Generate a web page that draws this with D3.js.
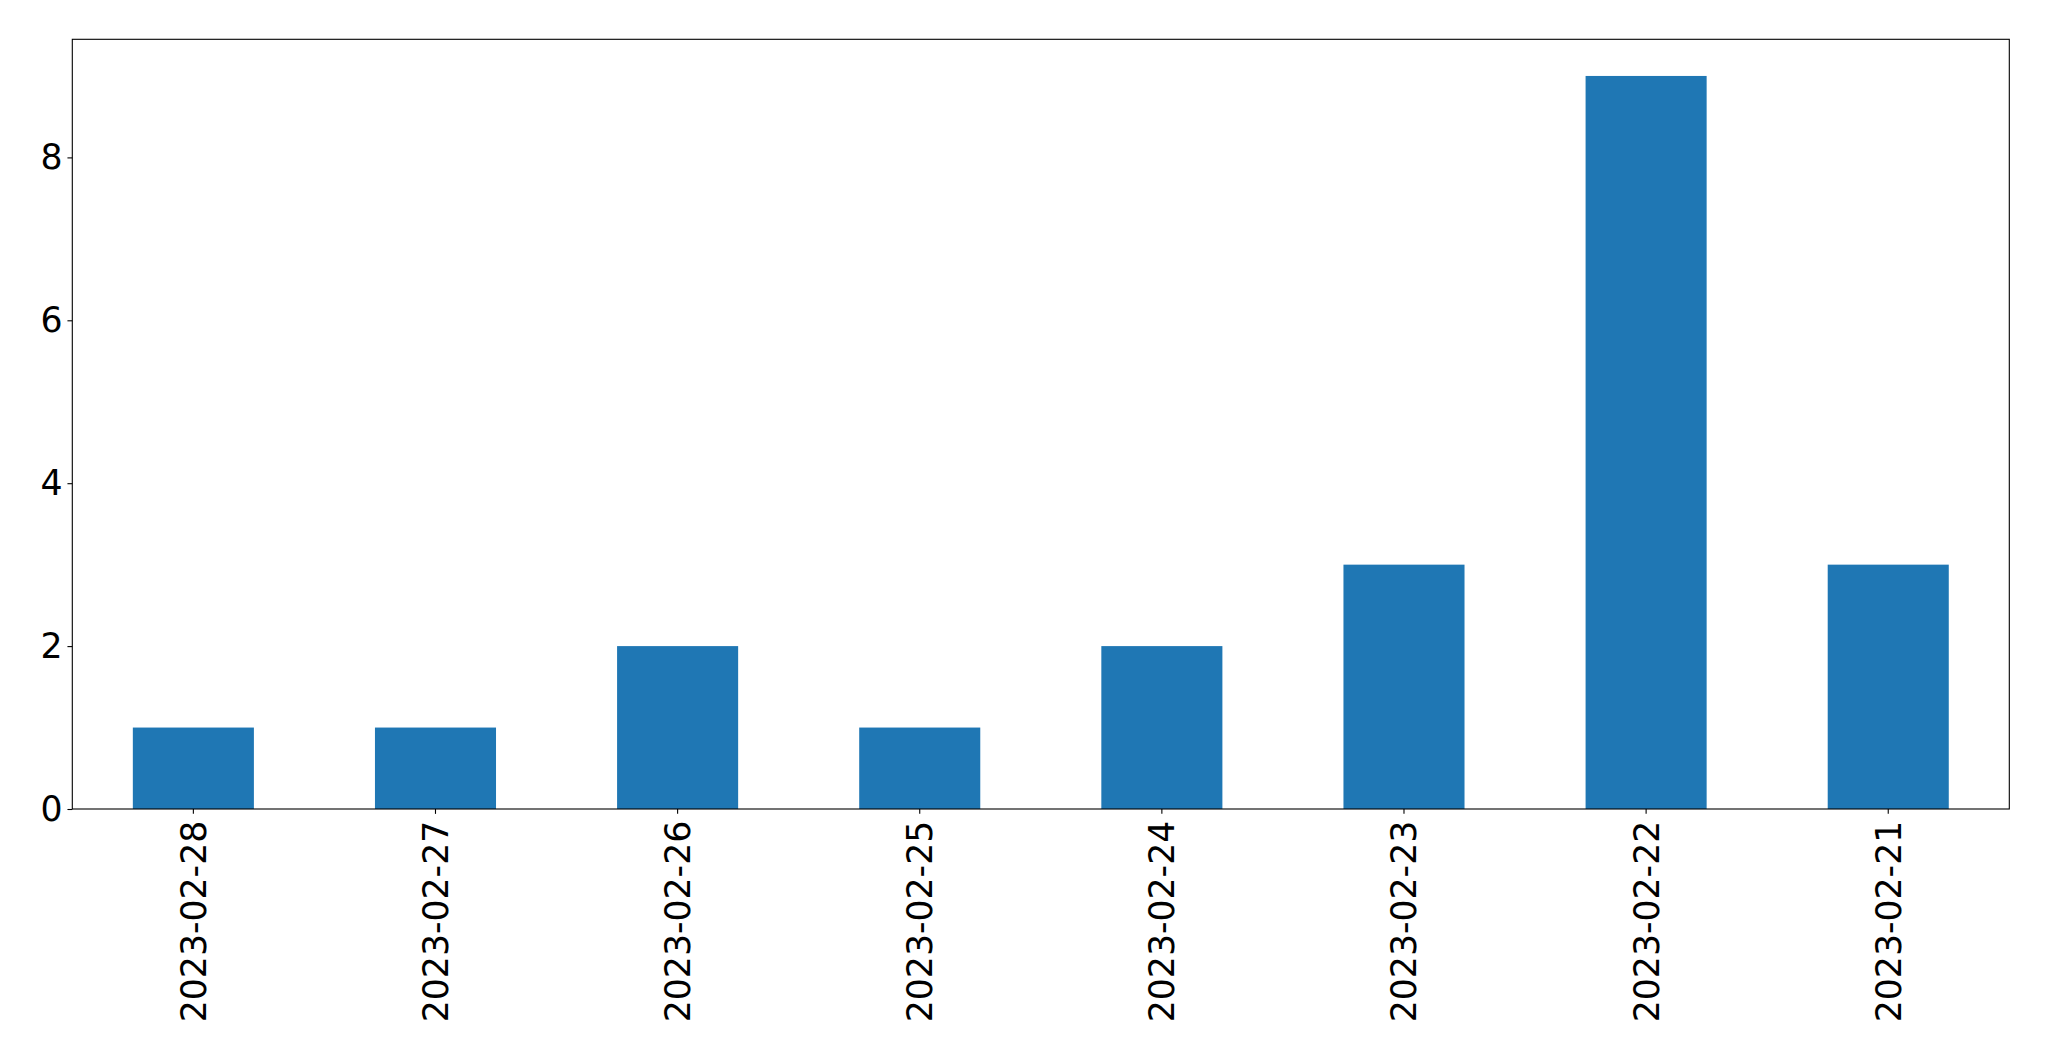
<!DOCTYPE html>
<html>
<head>
<meta charset="utf-8">
<script src="https://d3js.org/d3.v7.min.js"></script>
<style>
  html, body { margin: 0; padding: 0; background: #fff; }
  svg { display: block; }
  text { font-family: "DejaVu Sans", sans-serif; fill: #000; }
</style>
</head>
<body>
<script>
const categories = ["2023-02-28", "2023-02-27", "2023-02-26", "2023-02-25", "2023-02-24", "2023-02-23", "2023-02-22", "2023-02-21"];
const values = [1, 1, 2, 1, 2, 3, 9, 3];
const yTicks = [0, 2, 4, 6, 8];

const W = 2049, H = 1061;
const margin = { left: 72.3, right: W - 2009.3, top: 39.3, bottom: H - 809 };
const fontSize = 34.7;
const tickLen = 4.86, tickPad = 4.86;

const svg = d3.select("body").append("svg").attr("width", W).attr("height", H);

const x = d3.scaleBand().domain(categories).range([margin.left, W - margin.right]).padding(0);
const yMax = d3.max(values) * 1.05;
const y = d3.scaleLinear().domain([0, yMax]).range([H - margin.bottom, margin.top]);

// bars
svg.append("g").selectAll("rect").data(values).join("rect")
  .attr("x", (d, i) => x(categories[i]) + x.bandwidth() * 0.25)
  .attr("width", x.bandwidth() * 0.5)
  .attr("y", d => y(d))
  .attr("height", d => y(0) - y(d))
  .attr("fill", "#1f77b4");

// y axis
const yAxis = d3.axisLeft(y).tickValues(yTicks).tickFormat(d3.format("d"))
  .tickSizeInner(tickLen).tickSizeOuter(0).tickPadding(tickPad);
const gy = svg.append("g").attr("transform", `translate(${margin.left},0)`).call(yAxis);
gy.select(".domain").remove();
gy.selectAll(".tick line").attr("stroke", "#000").attr("stroke-width", 1.1);
gy.selectAll(".tick text").attr("font-size", fontSize).attr("font-family", "DejaVu Sans").attr("fill", "#000");

// x axis
const xAxis = d3.axisBottom(x).tickSizeInner(tickLen).tickSizeOuter(0).tickPadding(tickPad);
const gx = svg.append("g").attr("transform", `translate(0,${H - margin.bottom})`).call(xAxis);
gx.select(".domain").remove();
gx.selectAll(".tick line").attr("stroke", "#000").attr("stroke-width", 1.1);
gx.selectAll(".tick text")
  .attr("font-size", fontSize).attr("font-family", "DejaVu Sans").attr("fill", "#000")
  .attr("text-anchor", "end")
  .attr("transform", "rotate(-90)")
  .attr("x", -(tickLen + tickPad + 2))
  .attr("y", 0)
  .attr("dy", "0.36em");

// frame
svg.append("rect")
  .attr("x", margin.left).attr("y", margin.top)
  .attr("width", W - margin.right - margin.left)
  .attr("height", H - margin.bottom - margin.top)
  .attr("fill", "none").attr("stroke", "#000").attr("stroke-width", 1.1);
</script>
</body>
</html>
